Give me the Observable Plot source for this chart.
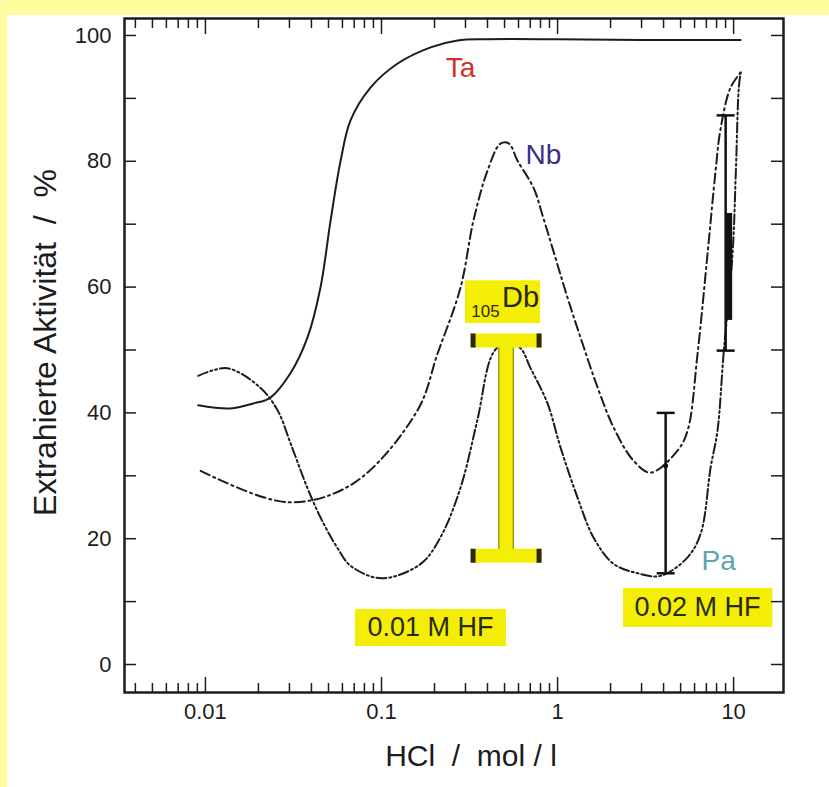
<!DOCTYPE html>
<html><head><meta charset="utf-8">
<script src="https://cdn.jsdelivr.net/npm/d3@7"></script>
<script src="https://cdn.jsdelivr.net/npm/@observablehq/plot@0.6"></script>
<style>
html,body{margin:0;padding:0;background:#fffc9f;width:829px;height:787px;overflow:hidden}
#panel{position:absolute;left:7px;top:15px;width:822px;height:772px;background:#fff}
#chart{position:absolute;left:0;top:0}
</style></head>
<body><div id="panel"></div><div id="chart"></div>
<script>
// ---- data ----
const xMajor = [0.01, 0.1, 1, 10];
const xMinor = [0.004,0.005,0.006,0.007,0.008,0.009,0.02,0.03,0.04,0.05,0.06,0.07,0.08,0.09,0.2,0.3,0.4,0.5,0.6,0.7,0.8,0.9,2,3,4,5,6,7,8,9];
const xLabels = ["0.01","0.1","1","10"];
const yTicks = [0,10,20,30,40,50,60,70,80,90,100];
const yLabels = [0,20,40,60,80,100];

const taX = [0.0091,0.0139,0.0187,0.0233,0.0304,0.038,0.045,0.0514,0.0586,0.0667,0.0866,0.123,0.19,0.27,0.4,1,3,10.96];
const taY = [41.2,40.7,41.5,42.4,46.3,52,59.9,70.6,80.1,86.5,91.7,95.5,98.1,99.2,99.4,99.4,99.3,99.3];

const nbX = [0.0094,0.0292,0.0693,0.160,0.208,0.281,0.333,0.40,0.474,0.53,0.592,0.73,0.83,1.14,1.35,1.69,2.08,2.7,3.37,4.8,5.48,6.24,7.11,7.9,8.4,9.6,10.96];
const nbY = [30.8,25.8,28.8,40.4,49.4,59.9,70.6,78.5,82.8,82.8,80.1,75.8,71,58.3,52,44,37.7,32.4,30.5,34,37.2,49.4,65.3,78.5,84.9,91.7,94.1];

const paX = [0.0091,0.0133,0.0205,0.0257,0.0305,0.0379,0.045,0.056,0.0667,0.1,0.167,0.216,0.281,0.35,0.43,0.52,0.62,0.70,0.877,1.04,1.3,1.6,2.08,2.85,3.85,5.46,6.5,7.4,8.1,8.77,9.86,10.3,10.7,10.96];
const paY = [45.9,47.1,44,40.4,35.1,28.1,23.4,18.6,15.7,13.7,16,20.2,28.1,38.8,49.5,51.5,50.2,47.2,41.5,34.5,26.5,20.2,16,14.5,14.1,17,20.8,31.3,37.2,49.4,65.3,78.5,91.7,94.1];

// Db (105) yellow error bar
const dbX = [0.51], dbLo = [17.3], dbHi = [51.5];
// black error bars
const errX = [4.11, 9.01], errLo = [14.5, 49.9], errHi = [40, 87.3];
const ptX = [4.11], ptY = [31.6];
const clX = [9.01], clLo = [54.7], clHi = [71.7];

// labels
const elemNames = ["Ta","Nb","Pa"], elemX = [0.281,0.83,8.22], elemY = [94.8,81,16.5], elemColors = ["#d2302c","#3b2f86","#5fa3ad"];
const hfTexts = ["0.01 M HF","0.02 M HF"], hfX = [0.19,6.24], hfY = [5.9,9.1];
const boxX1 = [0.0711,2.37,0.300], boxX2 = [0.513,16.7,0.80], boxY1 = [2.86,5.9,54.2], boxY2 = [8.74,12.1,61.0];
const dbLabelX = [0.39,0.616], dbLabelY = [56.1,58.3], dbLabelT = ["105","Db"];

// ---- build ----
const W=829,H=787,mL=124,mR=46,mT=18,mB=95;
const pw=W-mL-mR, ph=H-mT-mB;
const FONT = "'Liberation Sans', Arial, Helvetica, sans-serif";
const YEL = "#f4ee06";
const INK = "#1c1c1c";
const zip = (xs, ys) => xs.map((x,i)=>({x, y:ys[i]}));
const ta = zip(taX,taY), nb = zip(nbX,nbY), pa = zip(paX,paY);
const db = dbX.map((x,i)=>({x, lo:dbLo[i], hi:dbHi[i]}));
const err = errX.map((x,i)=>({x, lo:errLo[i], hi:errHi[i]}));
const cl = clX.map((x,i)=>({x, lo:clLo[i], hi:clHi[i]}));
const boxes = boxX1.map((x1,i)=>({x1, x2:boxX2[i], y1:boxY1[i], y2:boxY2[i]}));
const elems = elemNames.map((t,i)=>({t, x:elemX[i], y:elemY[i], c:elemColors[i]}));
const hfs = hfTexts.map((t,i)=>({t, x:hfX[i], y:hfY[i]}));

const rad = s => Math.sqrt(s/Math.PI);
const hLine = {draw(ctx,s){const r=rad(s); ctx.moveTo(-r,0); ctx.lineTo(r,0);}};
const barRect = {draw(ctx,s){const r=rad(s); ctx.rect(-r,-7,2*r,14);}};
const barTips = {draw(ctx,s){const r=rad(s); ctx.rect(-r,-7,5,14); ctx.rect(r-5,-7,5,14);}};

const chart = Plot.plot({
  width: W, height: H, marginLeft: mL, marginRight: mR, marginTop: mT, marginBottom: mB,
  x: {type: "log", domain: [0.00347, 19.2], axis: null},
  y: {domain: [-4.45, 102.7], axis: null},
  style: {background: "transparent", fontFamily: FONT, color: INK, overflow: "visible", whiteSpace: "pre"},
  marks: [
    Plot.rect(boxes, {x1:"x1", x2:"x2", y1:"y1", y2:"y2", fill: YEL}),
    Plot.line(ta, {x:"x", y:"y", curve:"catmull-rom", stroke: INK, strokeWidth: 2}),
    Plot.line(nb, {x:"x", y:"y", curve:"catmull-rom", stroke: INK, strokeWidth: 2, strokeDasharray: "10,4,2,4"}),
    Plot.line(pa, {x:"x", y:"y", curve:"catmull-rom", stroke: INK, strokeWidth: 2, strokeDasharray: "10,3,2,3,2,3"}),
    // Db bar
    Plot.ruleX(db, {x:"x", y1:"lo", y2:"hi", stroke: "#a89c00", strokeWidth: 16}),
    Plot.ruleX(db, {x:"x", y1:"lo", y2:"hi", stroke: YEL, strokeWidth: 13}),
    Plot.dot(db, {x:"x", y:"hi", r: 35.5, symbol: barRect, fill: YEL, stroke: "none"}),
    Plot.dot(db, {x:"x", y:"lo", r: 35.5, symbol: barRect, fill: YEL, stroke: "none"}),
    Plot.dot(db, {x:"x", y:"hi", r: 35.5, symbol: barTips, fill: "#2a2a1a", stroke: "none"}),
    Plot.dot(db, {x:"x", y:"lo", r: 35.5, symbol: barTips, fill: "#2a2a1a", stroke: "none"}),
    // black error bars
    Plot.ruleX(err, {x:"x", y1:"lo", y2:"hi", stroke: "#111", strokeWidth: 2.5}),
    Plot.dot(err, {x:"x", y:"hi", r: 9, symbol: hLine, stroke: "#111", fill: "none", strokeWidth: 2.5}),
    Plot.dot(err, {x:"x", y:"lo", r: 9, symbol: hLine, stroke: "#111", fill: "none", strokeWidth: 2.5}),
    Plot.ruleX(cl, {x:"x", y1:"lo", y2:"hi", stroke: "#111", strokeWidth: 7, dx: 3}),
    Plot.dot(zip(ptX, ptY), {x:"x", y:"y", r: 2.5, fill: "#111"}),
    // frame & ticks
    Plot.tickX(xMajor, {x: d=>d, insetTop: ph-15, stroke: INK, strokeWidth: 1.5}),
    Plot.tickX(xMinor, {x: d=>d, insetTop: ph-9, stroke: INK, strokeWidth: 1.5}),
    Plot.tickX(xMajor, {x: d=>d, insetBottom: ph-16, stroke: INK, strokeWidth: 1.5}),
    Plot.tickX(xMinor, {x: d=>d, insetBottom: ph-10, stroke: INK, strokeWidth: 1.5}),
    Plot.tickY(yTicks, {y: d=>d, insetRight: pw-12, stroke: INK, strokeWidth: 1.5}),
    Plot.tickY(yTicks, {y: d=>d, insetLeft: pw-12, stroke: INK, strokeWidth: 1.5}),
    Plot.frame({stroke: INK, strokeWidth: 2.5}),
    // tick labels
    Plot.text(xMajor, {x: d=>d, text: (d,i)=>xLabels[i], frameAnchor: "bottom", dy: 26, fontSize: 22, fill: INK}),
    Plot.text(yLabels, {y: d=>d, text: d=>String(d), frameAnchor: "left", dx: -13, textAnchor: "end", fontSize: 22, fill: INK}),
    // axis titles
    Plot.text(["HCl  /  mol / l"], {frameAnchor: "bottom", dx: 17, dy: 73, fontSize: 30, fill: INK}),
    Plot.text(["Extrahierte Aktivität  /  %"], {frameAnchor: "left", textAnchor: "middle", dx: -79, dy: -13, rotate: -90, fontSize: 32, fill: INK}),
    // annotations
    Plot.text(elems, {x:"x", y:"y", text:"t", fill: d=>d.c, fontSize: 28}),
    Plot.text(hfs, {x:"x", y:"y", text:"t", fill: "#2a2a10", fontSize: 27}),
    Plot.text([0], {x: dbLabelX[0], y: dbLabelY[0], text: [dbLabelT[0]], fill: "#2a2a10", fontSize: 17}),
    Plot.text([0], {x: dbLabelX[1], y: dbLabelY[1], text: [dbLabelT[1]], fill: "#2a2a10", fontSize: 29})
  ]
});
document.getElementById("chart").appendChild(chart);
</script></body></html>
